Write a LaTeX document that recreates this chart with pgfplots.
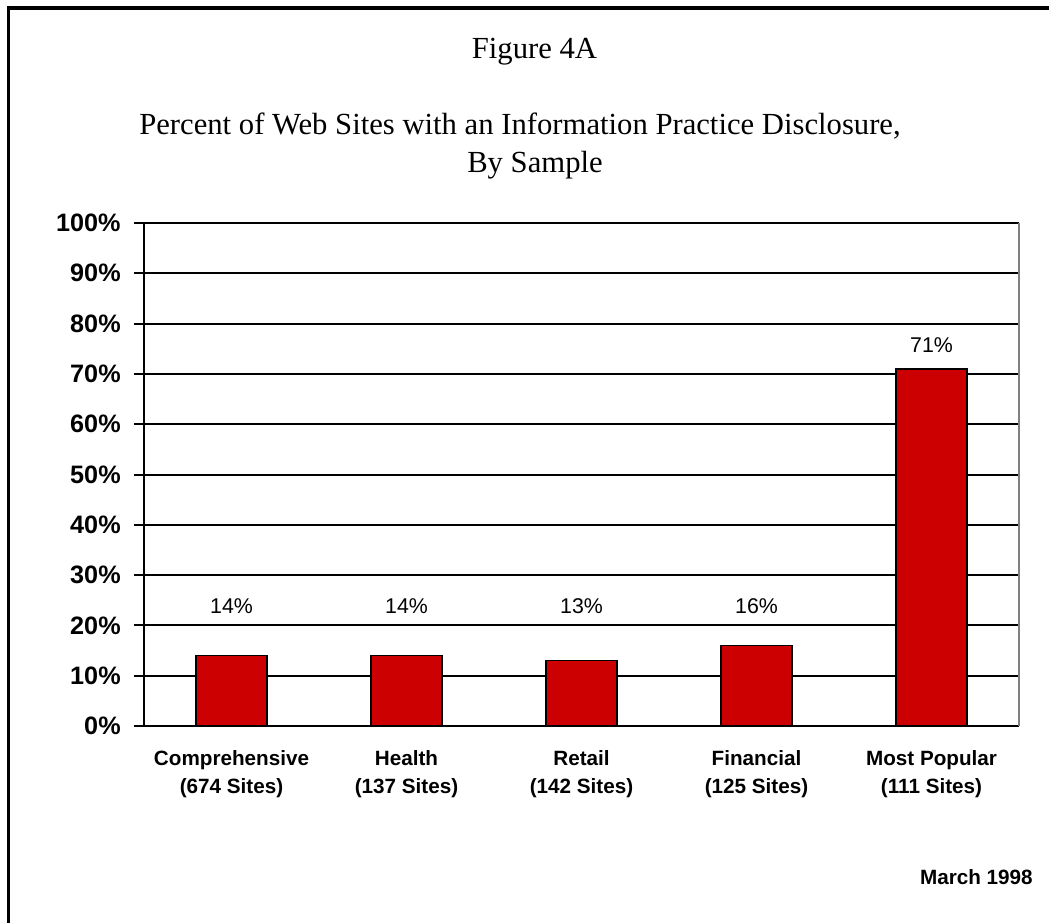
\documentclass[border=0pt]{standalone}
\usepackage{fontspec}
\setmainfont{Liberation Sans}
\newfontfamily\timesfont{Liberation Serif}
\usepackage{pgfplots}
\usepackage{pgfplotstable}
\pgfplotsset{compat=1.18}
\definecolor{barred}{HTML}{CC0000}
\definecolor{framegray}{HTML}{808080}

% share of sites with a disclosure (y) and height of the value label (ly)
\pgfplotstableread{
x y ly
0 14 22.3
1 14 22.3
2 13 22.3
3 16 22.3
4 71 74.2
}\disclosure

\begin{document}
\begin{tikzpicture}
\begin{scope}[x=0.75pt,y=-0.75pt]
  \path[use as bounding box] (0,0) rectangle (1049,923);
  \draw[line width=2.6pt] (8.4,923) -- (8.4,8.2) -- (1049,8.2);
  \node[font=\timesfont\fontsize{23}{28}\selectfont, anchor=base] at (534.5,59) {Figure 4A};
  \node[font=\timesfont\fontsize{23}{28}\selectfont, anchor=base] at (520,135)
    {Percent of Web Sites with an Information Practice Disclosure,};
  \node[font=\timesfont\fontsize{23}{28}\selectfont, anchor=base] at (535,173) {By Sample};
  \node[font=\bfseries\fontsize{15.5}{19}\selectfont, anchor=base east, inner sep=0pt] at (1033,884) {March 1998};
\end{scope}
\begin{axis}[
  at={(108pt,-544.5pt)}, anchor=south west,
  scale only axis, width=656.25pt, height=377.25pt,
  xmin=-0.5, xmax=4.5, ymin=0, ymax=100,
  axis line style={draw=none},
  tick align=outside, tick pos=left,
  every tick/.style={black, line width=1.5pt},
  major tick length=7.5pt, minor tick length=6pt,
  ytick={0,10,20,30,40,50,60,70,80,90,100},
  yticklabels={0\%,10\%,20\%,30\%,40\%,50\%,60\%,70\%,80\%,90\%,100\%},
  yticklabel style={font=\bfseries\fontsize{18.9}{22}\selectfont, anchor=east, inner sep=0pt, xshift=-9.8pt},
  xtick={0,1,2,3,4},
  xtick style={draw=none},
  minor xtick={-0.5,0.5,1.5,2.5,3.5,4.5},
  xticklabels={{Comprehensive\\(674 Sites)},{Health\\(137 Sites)},{Retail\\(142 Sites)},{Financial\\(125 Sites)},{Most Popular\\(111 Sites)}},
  xticklabel style={font=\bfseries\fontsize{15.5}{21}\selectfont, align=center, anchor=north, inner sep=0pt, yshift=-11pt},
  ymajorgrids,
  major grid style={black, line width=1.5pt},
  clip=false,
]
\addplot[ybar, bar width=53.25pt, fill=barred, draw=black, line width=1.1pt]
  table[x=x, y=y] {\disclosure};
\addplot[only marks, mark=none, point meta=explicit,
  nodes near coords={\pgfmathprintnumber[assume math mode=true]{\pgfplotspointmeta}\%},
  nodes near coords style={anchor=base, inner sep=0pt, font=\fontsize{16}{19}\selectfont}]
  table[x=x, y=ly, meta=y] {\disclosure};
\draw[black, line width=1.5pt] (rel axis cs:0,0) -- (rel axis cs:0,1);
\draw[black, line width=1.5pt] (rel axis cs:0,0) -- (rel axis cs:1,0);
\draw[framegray, line width=1.5pt] (rel axis cs:1,0) -- (rel axis cs:1,1);
\end{axis}
\end{tikzpicture}
\end{document}
